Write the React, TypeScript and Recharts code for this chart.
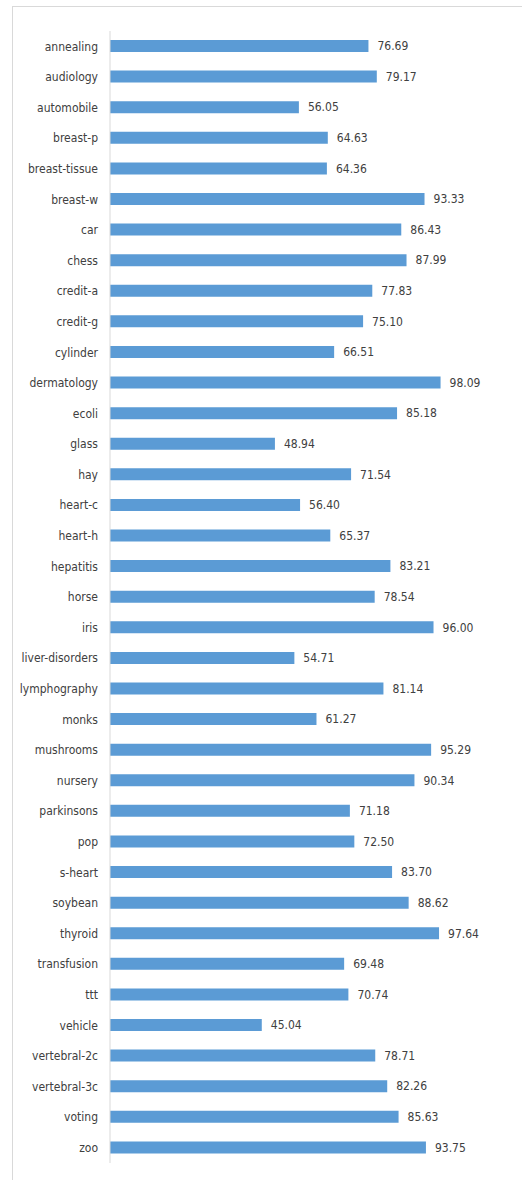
import React from "react";
import { BarChart, Bar, XAxis, YAxis, LabelList } from "recharts";

const datasets = [
  "annealing", "audiology", "automobile", "breast-p", "breast-tissue", "breast-w",
  "car", "chess", "credit-a", "credit-g", "cylinder", "dermatology", "ecoli",
  "glass", "hay", "heart-c", "heart-h", "hepatitis", "horse", "iris",
  "liver-disorders", "lymphography", "monks", "mushrooms", "nursery", "parkinsons",
  "pop", "s-heart", "soybean", "thyroid", "transfusion", "ttt", "vehicle",
  "vertebral-2c", "vertebral-3c", "voting", "zoo",
];

const accuracy = [
  76.69, 79.17, 56.05, 64.63, 64.36, 93.33,
  86.43, 87.99, 77.83, 75.1, 66.51, 98.09, 85.18,
  48.94, 71.54, 56.4, 65.37, 83.21, 78.54, 96.0,
  54.71, 81.14, 61.27, 95.29, 90.34, 71.18,
  72.5, 83.7, 88.62, 97.64, 69.48, 70.74, 45.04,
  78.71, 82.26, 85.63, 93.75,
];

const rows = datasets.map((name, i) => ({ name, value: accuracy[i] }));

const FONT = "'DejaVu Sans Condensed', 'Noto Sans', sans-serif";
const TEXT = "#404040";

export default function App() {
  return (
    <div style={{ position: "absolute", left: 0, top: 0, width: 522, height: 1180, background: "#fff" }}>
      {/* chart area border, clipped at the right and bottom */}
      <div
        style={{
          position: "absolute",
          left: 12,
          top: 6,
          width: 530,
          height: 1200,
          border: "1px solid #d9d9d9",
          boxSizing: "border-box",
        }}
      />
      <BarChart
        width={522}
        height={1180}
        data={rows}
        layout="vertical"
        margin={{ top: 31, right: 75, bottom: 17, left: 0 }}
        style={{ position: "absolute", left: 0, top: 0 }}
      >
        <XAxis type="number" domain={[0, 100]} hide />
        <YAxis
          type="category"
          dataKey="name"
          width={110}
          axisLine={{ stroke: "#d9d9d9" }}
          tickLine={false}
          tickMargin={6}
          interval={0}
          tick={{ fontSize: 12, fill: TEXT, fontFamily: FONT }}
        />
        <Bar dataKey="value" fill="#5b9bd5" barSize={12} isAnimationActive={false}>
          <LabelList
            dataKey="value"
            position="right"
            offset={9}
            formatter={(v: number) => v.toFixed(2)}
            style={{ fontSize: 12, fill: TEXT, fontFamily: FONT }}
          />
        </Bar>
      </BarChart>
    </div>
  );
}
